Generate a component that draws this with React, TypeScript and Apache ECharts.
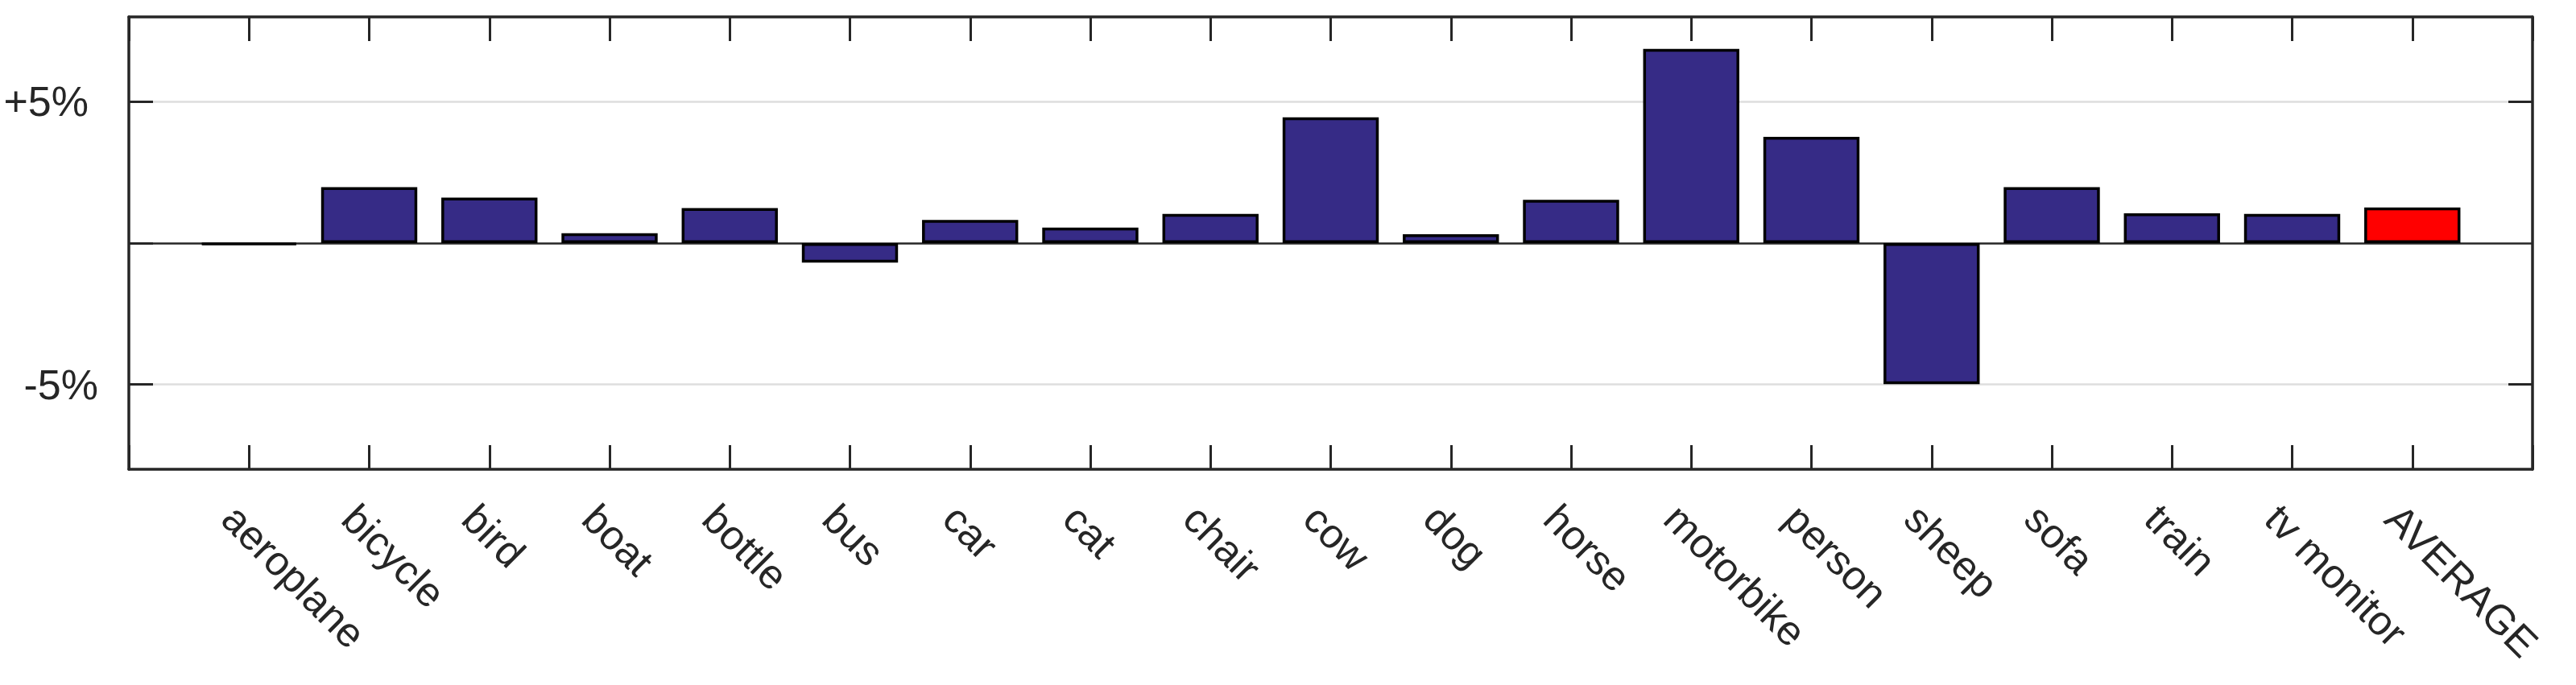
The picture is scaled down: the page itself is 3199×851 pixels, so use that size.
import { useEffect, useRef } from 'react';
import * as echarts from 'echarts';

const categories = [
  'aeroplane', 'bicycle', 'bird', 'boat', 'bottle', 'bus', 'car', 'cat', 'chair', 'cow',
  'dog', 'horse', 'motorbike', 'person', 'sheep', 'sofa', 'train', 'tv monitor', 'AVERAGE',
];
const values = [
  -0.06, 1.98, 1.61, 0.35, 1.24, -0.69, 0.82, 0.55, 1.03, 4.45,
  0.31, 1.53, 6.87, 3.76, -4.99, 1.98, 1.05, 1.03, 1.26,
];
const yTickValues = [-5, 0, 5];
const yLabelValues = [-5, 5];

const BLUE = '#362b86';
const RED = '#ff0000';
const INK = '#262626';
const FONT = '"Liberation Sans", Arial, Helvetica, sans-serif';

export default function App() {
  const ref = useRef<HTMLDivElement>(null);
  useEffect(() => {
    document.body.style.margin = '0';
    const chart = echarts.init(ref.current!, null, { renderer: 'svg' });
    const axisCats = ['', ...categories, ''];
    const lastIdx = categories.length - 1;
    const seriesData: any[] = [
      null,
      ...values.map((v, i) => ({ value: v, itemStyle: { color: i === lastIdx ? RED : BLUE } })),
      null,
    ];
    const frameLine = { show: true, onZero: false, lineStyle: { color: INK, width: 3.5 } };
    const tickStyle = { color: INK, width: 3 };
    chart.setOption({
      animation: false,
      backgroundColor: '#ffffff',
      grid: { left: 160, right: 54, top: 21, bottom: 268, containLabel: false, outerBoundsMode: 'none' },
      xAxis: [
        {
          type: 'category',
          data: axisCats,
          boundaryGap: false,
          position: 'bottom',
          axisLine: frameLine,
          axisTick: { show: true, inside: true, length: 30, interval: 0, lineStyle: tickStyle },
          axisLabel: {
            interval: 0,
            rotate: -45,
            align: 'left',
            verticalAlign: 'top',
            lineHeight: 70,
            margin: 28,
            fontSize: 51,
            color: INK,
            fontFamily: FONT,
          },
          splitLine: { show: false },
        },
        {
          type: 'category',
          data: axisCats,
          boundaryGap: false,
          position: 'top',
          axisLine: frameLine,
          axisTick: { show: true, inside: true, length: 30, interval: 0, lineStyle: tickStyle },
          axisLabel: { show: false },
          splitLine: { show: false },
        },
      ],
      yAxis: [
        {
          type: 'value',
          min: -8,
          max: 8,
          position: 'left',
          axisLine: frameLine,
          axisTick: { show: true, inside: true, length: 30, customValues: yTickValues, lineStyle: tickStyle },
          axisLabel: {
            customValues: yLabelValues,
            margin: 38,
            fontSize: 52,
            color: INK,
            fontFamily: FONT,
            formatter: (v: number) => (v > 0 ? `{p|+${v}%}` : `${v}%`),
            rich: { p: { fontSize: 52, color: INK, fontFamily: FONT, padding: [0, 12, 0, 0] } },
          },
          splitLine: { show: true, lineStyle: { color: ['#dedede', INK, '#dedede'], width: 2.5 } },
        },
        {
          type: 'value',
          min: -8,
          max: 8,
          position: 'right',
          axisLine: frameLine,
          axisTick: { show: true, inside: true, length: 30, customValues: yLabelValues, lineStyle: tickStyle },
          axisLabel: { show: false },
          splitLine: { show: false },
        },
      ],
      series: [
        {
          type: 'bar',
          xAxisIndex: 0,
          yAxisIndex: 0,
          barWidth: '80%',
          data: seriesData,
          itemStyle: { borderColor: '#000000', borderWidth: 3.5 },
        },
      ],
    });
    return () => chart.dispose();
  }, []);
  return <div ref={ref} style={{ position: 'absolute', left: 0, top: 0, width: 3199, height: 851 }} />;
}
